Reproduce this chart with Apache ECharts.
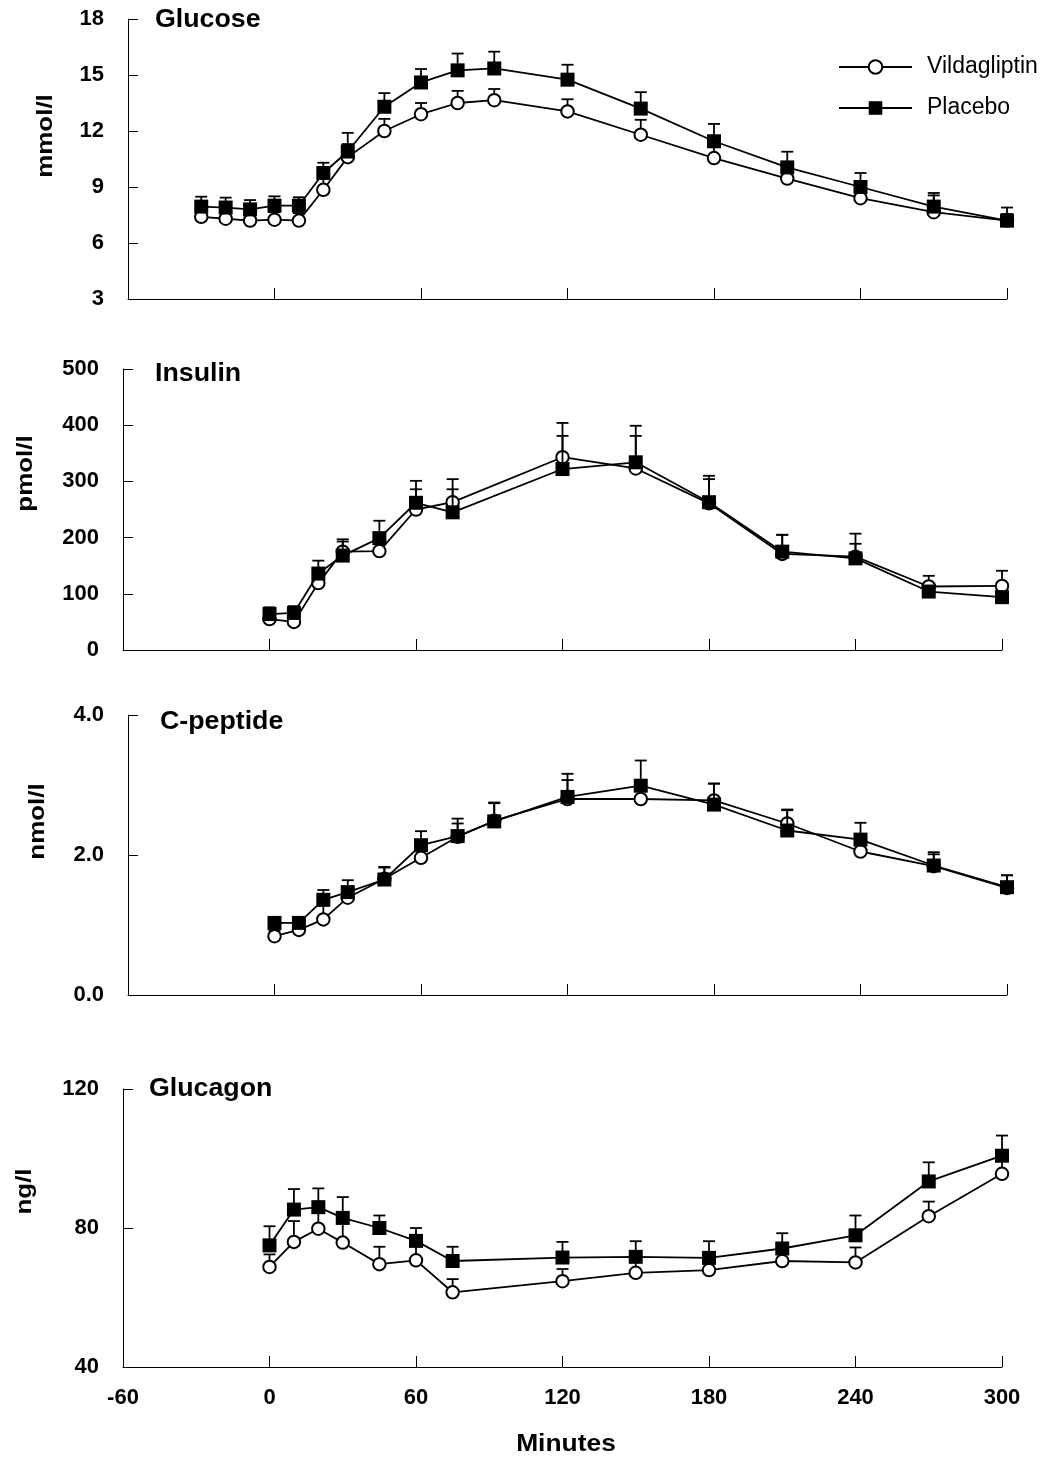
<!DOCTYPE html>
<html>
<head>
<meta charset="utf-8">
<script src="https://cdn.jsdelivr.net/npm/echarts@6/dist/echarts.min.js"></script>
<style>
html,body{margin:0;padding:0;background:#fff;}
#chart{width:1049px;height:1458px;}
</style>
</head>
<body>
<div id="chart"></div>
<script>
// ---------- data ----------
const seriesNames = ['Vildagliptin', 'Placebo'];
const panelTitles = ['Glucose', 'Insulin', 'C-peptide', 'Glucagon'];
const unitNames = ['mmol/l', 'pmol/l', 'nmol/l', 'ng/l'];
const xAxisName = 'Minutes';
const xTicks = [-60, 0, 60, 120, 180, 240, 300];

// Glucose (mmol/l)
const timeGlu = [-30, -20, -10, 0, 10, 20, 30, 45, 60, 75, 90, 120, 150, 180, 210, 240, 270, 300];
const gluV  = [7.4, 7.3, 7.2, 7.25, 7.2, 8.85, 10.6, 12.0, 12.9, 13.5, 13.65, 13.05, 11.8, 10.55, 9.45, 8.4, 7.65, 7.2];
const gluP  = [7.95, 7.9, 7.8, 8.0, 8.0, 9.75, 10.9, 13.3, 14.6, 15.25, 15.35, 14.75, 13.2, 11.45, 10.05, 9.0, 7.95, 7.2];
const gluVe = [0.4, 0.4, 0.4, 0.4, 0.4, 0.6, 0.7, 0.65, 0.6, 0.65, 0.6, 0.65, 0.8, 0.6, 0.5, 0.5, 0.9, 0.35];
const gluPe = [0.53, 0.53, 0.5, 0.5, 0.45, 0.55, 1.0, 0.73, 0.72, 0.9, 0.9, 0.8, 0.88, 0.93, 0.84, 0.75, 0.73, 0.7];

// Insulin (pmol/l)
const timeIns = [0, 10, 20, 30, 45, 60, 75, 120, 150, 180, 210, 240, 270, 300];
const insV  = [55, 50, 119, 175, 176, 250, 263, 343, 323, 261, 171, 166, 113, 114];
const insP  = [64, 66, 136, 168, 199, 262, 245, 322, 334, 263, 175, 163, 104, 94];
const insVe = [10, 10, 15, 18, 20, 36, 41, 61, 58, 43, 34, 41, 19, 27];
const insPe = [12, 12, 23, 29, 31, 39, 41, 59, 65, 47, 30, 26, 10, 10];

// C-peptide (nmol/l)
const timeCp = [0, 10, 20, 30, 45, 60, 75, 90, 120, 150, 180, 210, 240, 270, 300];
const cpV  = [0.84, 0.93, 1.08, 1.39, 1.66, 1.96, 2.26, 2.49, 2.80, 2.80, 2.78, 2.45, 2.05, 1.84, 1.53];
const cpP  = [1.03, 1.03, 1.36, 1.47, 1.65, 2.14, 2.27, 2.48, 2.83, 2.99, 2.72, 2.35, 2.22, 1.85, 1.54];
const cpVe = [0.08, 0.08, 0.2, 0.12, 0.17, 0.2, 0.19, 0.26, 0.27, 0.2, 0.24, 0.2, 0.15, 0.2, 0.18];
const cpPe = [0.08, 0.08, 0.14, 0.17, 0.17, 0.2, 0.25, 0.26, 0.33, 0.36, 0.30, 0.29, 0.24, 0.16, 0.17];

// Glucagon (ng/l)
const timeGcg = [0, 10, 20, 30, 45, 60, 75, 120, 150, 180, 210, 240, 270, 300];
const gcgV  = [68.8, 76.0, 79.8, 75.8, 69.6, 70.7, 61.5, 64.7, 67.1, 67.9, 70.5, 70.1, 83.4, 95.6];
const gcgP  = [75.0, 85.3, 86.0, 82.9, 80.0, 76.3, 70.5, 71.5, 71.7, 71.4, 74.1, 77.9, 93.4, 100.8];
const gcgVe = [3.6, 6.0, 5.0, 6.0, 5.0, 4.0, 3.8, 3.5, 3.5, 3.5, 3.5, 4.3, 4.2, 4.0];
const gcgPe = [5.5, 5.9, 5.4, 6.0, 3.6, 3.7, 4.1, 4.5, 4.5, 4.8, 4.4, 5.7, 5.5, 5.8];

// y-axis scales
const yMin = [3, 0, 0, 40];
const yMax = [18, 500, 4, 120];
const yInterval = [3, 100, 2, 40];

// ---------- build ----------
const FONT = '"Liberation Sans", Arial, Helvetica, sans-serif';
const panels = [
  {t: timeGlu, v: gluV, p: gluP, ve: gluVe, pe: gluPe},
  {t: timeIns, v: insV, p: insP, ve: insVe, pe: insPe},
  {t: timeCp,  v: cpV,  p: cpP,  ve: cpVe,  pe: cpPe},
  {t: timeGcg, v: gcgV, p: gcgP, ve: gcgVe, pe: gcgPe}
];
const gridBoxes = [
  {left: 128, right: 42, top: 19, height: 280},
  {left: 123, right: 47, top: 369, height: 281},
  {left: 128, right: 42, top: 715, height: 280},
  {left: 123, right: 47, top: 1089, height: 278}
];

function errRender(params, api) {
  const x = api.value(0), y = api.value(1), t = api.value(2);
  const p0 = api.coord([x, y]);
  const p1 = api.coord([x, t]);
  const st = {stroke: '#000', lineWidth: 1.8};
  return {
    type: 'group',
    children: [
      {type: 'line', shape: {x1: p0[0], y1: p0[1], x2: p1[0], y2: p1[1]}, style: st},
      {type: 'line', shape: {x1: p1[0] - 6, y1: p1[1], x2: p1[0] + 6, y2: p1[1]}, style: st}
    ]
  };
}

const grid = [], xAxis = [], yAxis = [], series = [];
panels.forEach((pn, i) => {
  grid.push(gridBoxes[i]);
  xAxis.push({
    type: 'value', gridIndex: i, min: xTicks[0], max: xTicks[xTicks.length - 1], interval: 60,
    axisLine: {show: true, onZero: false, lineStyle: {color: '#000', width: 1}},
    axisTick: {show: true, inside: true, length: 11, lineStyle: {color: '#000', width: 1}},
    splitLine: {show: false},
    axisLabel: {show: i === 3, margin: 20, color: '#000', fontSize: 22, fontWeight: 'bold', fontFamily: FONT}
  });
  yAxis.push({
    type: 'value', gridIndex: i, min: yMin[i], max: yMax[i], interval: yInterval[i],
    axisLine: {show: true, onZero: false, lineStyle: {color: '#000', width: 1}},
    axisTick: {show: true, inside: true, length: 10, lineStyle: {color: '#000', width: 1}},
    splitLine: {show: false},
    axisLabel: {
      margin: 24, color: '#000', fontSize: 22, fontWeight: 'bold', fontFamily: FONT,
      formatter: i === 2 ? (v => v.toFixed(1)) : (v => String(v))
    }
  });
  const groups = [
    {name: seriesNames[0], vals: pn.v, errs: pn.ve},
    {name: seriesNames[1], vals: pn.p, errs: pn.pe}
  ];
  groups.forEach((g, k) => {
    series.push({
      type: 'custom', name: g.name + ' SEM', xAxisIndex: i, yAxisIndex: i, z: 1 + k * 2,
      renderItem: errRender, silent: true,
      encode: {x: 0, y: [1, 2]},
      data: pn.t.map((t, j) => [t, g.vals[j], g.vals[j] + g.errs[j]])
    });
    series.push({
      type: 'line', name: g.name, xAxisIndex: i, yAxisIndex: i, z: 2 + k * 2,
      data: pn.t.map((t, j) => [t, g.vals[j]]),
      symbol: k === 0 ? 'circle' : 'rect',
      symbolSize: k === 0 ? 12.5 : 14,
      showSymbol: true,
      lineStyle: {color: '#000', width: 1.8},
      itemStyle: k === 0
        ? {color: '#fff', borderColor: '#000', borderWidth: 2}
        : {color: '#000', borderColor: '#000', borderWidth: 0},
      emphasis: {disabled: true}
    });
  });
});

const titlePos = [[155, 20.5], [155, 374], [160, 722], [149, 1089]];
const namePos = [[46, 136], [26, 473.5], [38, 821.5], [25, 1191.5]];
const graphic = [];
panelTitles.forEach((t, i) => {
  graphic.push({
    type: 'text', x: titlePos[i][0], y: titlePos[i][1], scaleX: 1.07,
    style: {text: t, font: 'bold 25px ' + FONT, fill: '#000', align: 'left', verticalAlign: 'middle', textAlign: 'left', textVerticalAlign: 'middle'}
  });
});
unitNames.forEach((t, i) => {
  graphic.push({
    type: 'text', x: namePos[i][0], y: namePos[i][1], rotation: Math.PI / 2, scaleX: 1.18,
    style: {text: t, font: 'bold 22px ' + FONT, fill: '#000', align: 'center', verticalAlign: 'middle', textAlign: 'center', textVerticalAlign: 'middle'}
  });
});
graphic.push({
  type: 'text', x: 566, y: 1444, scaleX: 1.1,
  style: {text: xAxisName, font: 'bold 24px ' + FONT, fill: '#000', align: 'center', verticalAlign: 'middle', textAlign: 'center', textVerticalAlign: 'middle'}
});

const option = {
  animation: false,
  backgroundColor: '#fff',
  grid, xAxis, yAxis, series, graphic,
  legend: {
    data: seriesNames,
    orient: 'vertical', left: 838, top: 55.5, padding: 0,
    itemWidth: 73, itemHeight: 17, itemGap: 18,
    selectedMode: false,
    textStyle: {fontSize: 23, fontFamily: FONT, color: '#000', padding: [0, 0, 0, 10]}
  }
};
const chart = echarts.init(document.getElementById('chart'), null, {renderer: 'canvas'});
chart.setOption(option);
</script>
</body>
</html>
